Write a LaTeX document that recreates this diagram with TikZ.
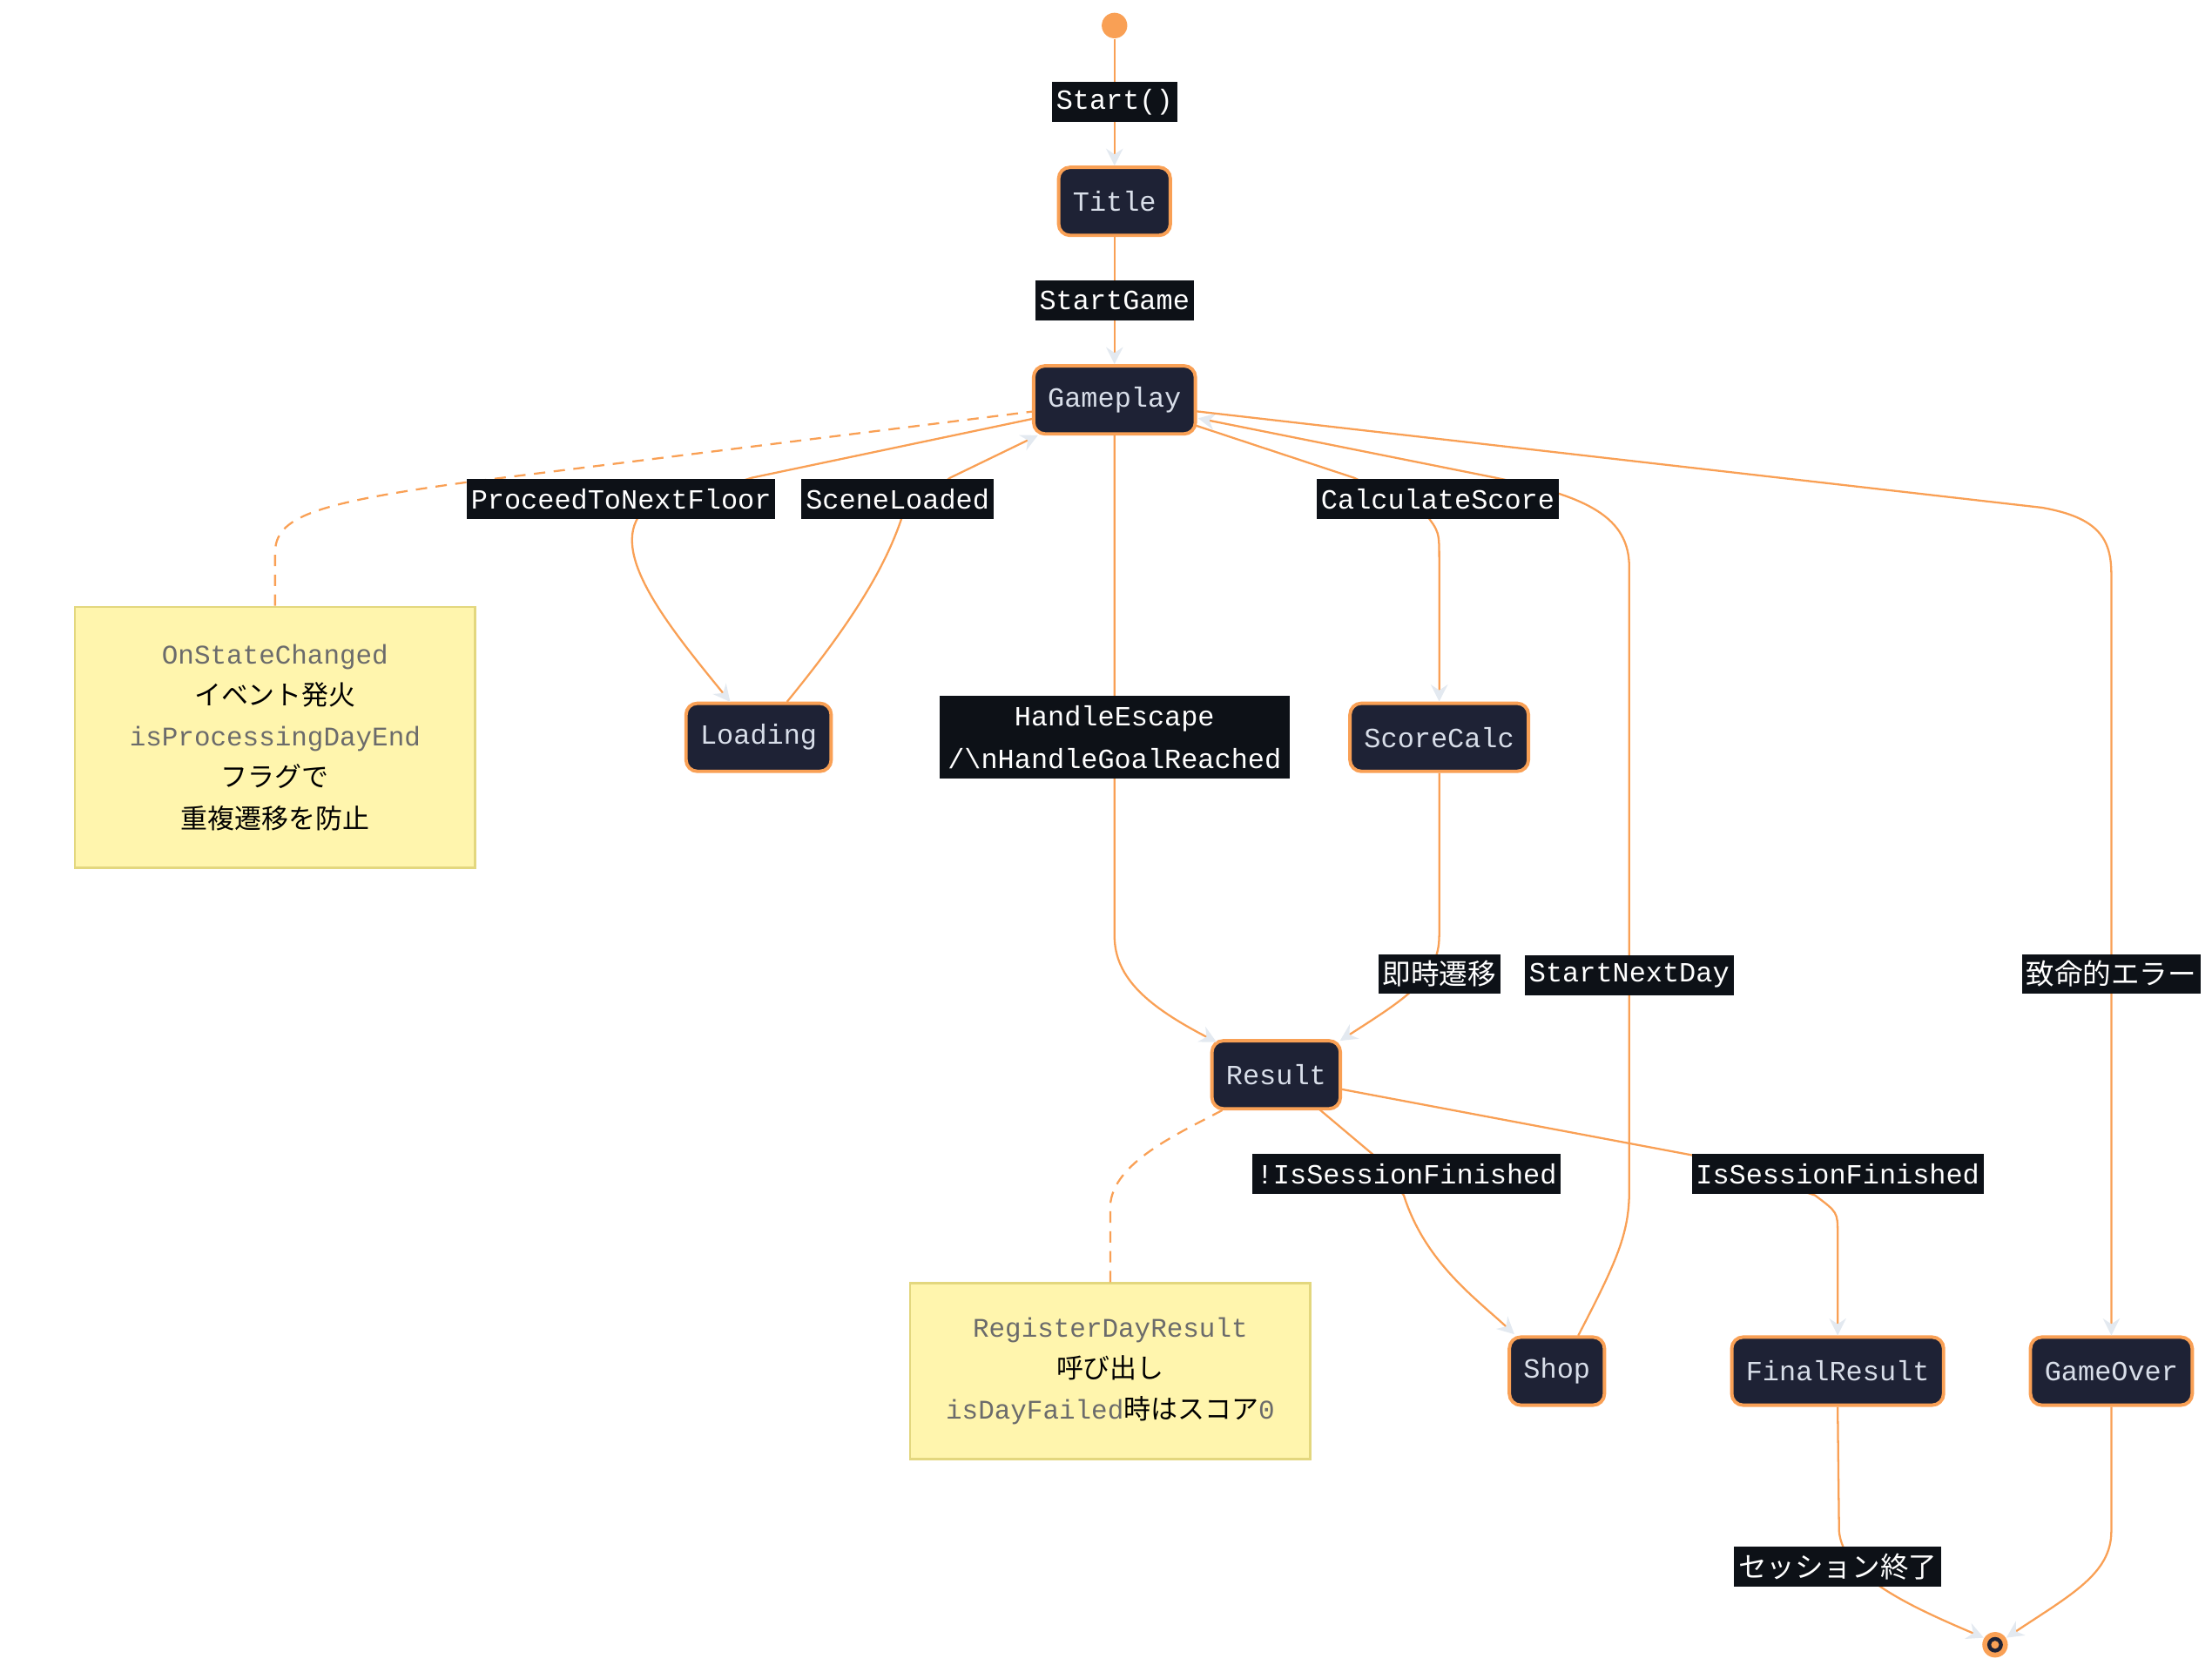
\documentclass[tikz,border=0pt]{standalone}
\usepackage{fontspec}
\setmonofont{Liberation Mono}
\newfontfamily\cjk{Noto Sans CJK JP}
\usetikzlibrary{arrows.meta}
\definecolor{nodef}{HTML}{1E2235}
\definecolor{orng}{HTML}{F9A055}
\definecolor{txt}{HTML}{D8DEE9}
\definecolor{lblbg}{HTML}{0D1117}
\definecolor{tipc}{HTML}{E3E9F0}
\definecolor{notef}{HTML}{FFF5AD}
\definecolor{noted}{HTML}{E3D77E}
\definecolor{notet}{HTML}{6B6B6B}
\begin{document}
\begin{tikzpicture}[x=0.5pt,y=-0.5pt,
 st/.style={draw=orng,line width=1.2pt,fill=nodef,rounded corners=4pt,text=txt,font=\ttfamily\fontsize{9.8}{12}\selectfont,minimum height=24pt,inner xsep=5pt},
 lb/.style={fill=lblbg,text=white,font=\ttfamily\fontsize{9.8}{12}\selectfont,inner sep=1.5pt,minimum height=14pt},
 jl/.style={fill=lblbg,text=white,font=\cjk\fontsize{10}{12}\selectfont,inner sep=1.5pt,minimum height=14pt},
 ed/.style={draw=orng,line width=0.7pt},
 ar/.style={ed,-{Stealth[color=tipc,length=6pt,width=6pt,inset=2pt]}},
 nt/.style={draw=noted,fill=notef,line width=0.7pt,align=center,text=black,font=\cjk\fontsize{9.5}{14.5}\selectfont,text width=#1},
 dsh/.style={ed,dashed,dash pattern=on 4pt off 3pt}]
\useasboundingbox (0,0) rectangle (1560,1179);
% nodes
\node[circle,fill=orng,minimum size=9pt,inner sep=0] (s) at (786,18) {};
\node[st,minimum width=39pt] (title) at (786,142) {Title};
\node[st,minimum width=57pt] (gp) at (786,282) {Gameplay};
\node[st,minimum width=51pt] (load) at (535,520) {Loading};
\node[st,minimum width=62pt] (sc) at (1015,520) {ScoreCalc};
\node[st,minimum width=45pt] (res) at (900,758) {Result};
\node[st,minimum width=33pt] (shop) at (1098,967) {Shop};
\node[st,minimum width=74pt] (fr) at (1296,967) {FinalResult};
\node[st,minimum width=56pt] (go) at (1489,967) {GameOver};
\node[circle,fill=orng,minimum size=9pt,inner sep=0] (e) at (1407,1160) {};
\node[circle,fill=nodef,minimum size=5.5pt,inner sep=0] (ei) at (1407,1160) {};
\node[circle,fill=orng,minimum size=2.8pt,inner sep=0] (ec) at (1407,1160) {};
% notes
\node[nt=124pt,minimum width=141pt,minimum height=92pt] (n1) at (194,520) {{\ttfamily\color{notet}OnStateChanged} イベント発火\\{\ttfamily\color{notet}isProcessingDayEnd} フラグで\\重複遷移を防止};
\node[nt=124pt,minimum width=141pt,minimum height=62pt] (n2) at (783,967) {{\ttfamily\color{notet}RegisterDayResult} 呼び出し\\{\ttfamily\color{notet}isDayFailed}時はスコア{\ttfamily\color{notet}0}};
% coordinates
\coordinate (c1) at (786,72);
\coordinate (c2) at (786,212);
% edges
\draw[ar] (s) -- (title);
\draw[ar] (title) -- (gp);
\draw[ar] (730,295) -- (530,337) -- (452,362) .. controls (430,390) and (470,440) .. (515,495);
\draw[ar] (555,495) .. controls (600,440) and (625,400) .. (637,362) -- (670,337) -- (732,307);
\draw[ar] (786,306) -- (786,660) .. controls (786,690) and (810,710) .. (858,735);
\draw[ar] (843,300) -- (955,337) -- (1005,362) .. controls (1015,375) .. (1015,395) -- (sc.north);
\draw[ar] (sc.south) -- (1015,660) .. controls (1015,690) and (990,705) .. (945,734);
\draw[ar] (930,782) -- (968,814) -- (990,843) .. controls (1005,890) and (1040,915) .. (1068,941);
\draw[ar] (1113,942) .. controls (1140,890) and (1149,870) .. (1149,840) -- (1149,400) .. controls (1149,365) and (1120,350) .. (1055,337) -- (845,295);
\draw[ar] (843,290) -- (1440,358) .. controls (1480,365) and (1489,380) .. (1489,405) -- (go.north);
\draw[ar] (945,768) -- (1195,815) -- (1280,843) .. controls (1296,855) .. (1296,870) -- (fr.north);
\draw[ar] (fr.south) -- (1297,1080) .. controls (1300,1110) and (1340,1130) .. (1399,1155);
\draw[ar] (go.south) -- (1489,1080) .. controls (1489,1110) and (1460,1125) .. (1415,1155);
\draw[dsh] (n1.north) -- (194,390) .. controls (194,365) and (220,355) .. (330,340) -- (730,290);
\draw[dsh] (n2.north) -- (783,850) .. controls (785,820) and (830,800) .. (862,783);
% labels
\node[lb] at (786,72) {Start()};
\node[lb] at (786,212) {StartGame};
\node[lb] at (438,352) {ProceedToNextFloor};
\node[lb] at (633,352) {SceneLoaded};
\node[lb] at (1014,352) {CalculateScore};
\node[lb,align=center,minimum width=122pt,minimum height=29pt,inner sep=3pt,font=\ttfamily\fontsize{9.8}{15}\selectfont] at (786,520) {HandleEscape\\/\textbackslash nHandleGoalReached};
\node[jl] at (1015,687) {即時遷移};
\node[lb] at (1149,688) {StartNextDay};
\node[jl] at (1489,687) {致命的エラー};
\node[lb] at (992,828) {!IsSessionFinished};
\node[lb] at (1296,828) {IsSessionFinished};
\node[jl] at (1296,1105) {セッション終了};
\end{tikzpicture}
\end{document}
